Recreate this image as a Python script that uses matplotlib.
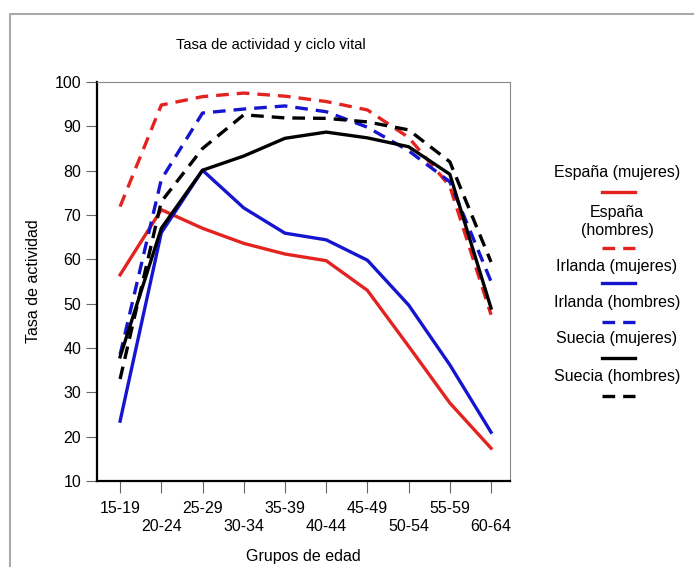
import matplotlib
matplotlib.use('Agg')
import matplotlib.pyplot as plt
from matplotlib.lines import Line2D

plt.rcParams['font.family'] = ['Liberation Sans', 'DejaVu Sans']

grupos = ['15-19', '20-24', '25-29', '30-34', '35-39',
          '40-44', '45-49', '50-54', '55-59', '60-64']
espana_m = [56.5, 71.2, 67.0, 63.6, 61.2, 59.7, 53.0, 40.4, 27.6, 17.4]
espana_h = [71.9, 94.8, 96.7, 97.5, 96.8, 95.6, 93.7, 87.5, 76.5, 47.5]
irlanda_m = [23.5, 66.0, 80.1, 71.6, 65.9, 64.4, 59.8, 49.7, 36.2, 21.0]
irlanda_h = [38.5, 78.0, 93.0, 93.9, 94.6, 93.3, 89.8, 84.5, 77.5, 55.0]
suecia_m = [38.0, 67.0, 80.1, 83.3, 87.3, 88.7, 87.4, 85.4, 79.2, 49.0]
suecia_h = [33.0, 73.0, 85.0, 92.6, 91.9, 91.8, 91.0, 89.2, 82.0, 59.4]

series = [
    ('España (mujeres)', espana_m, '#e32320', '-'),
    ('España\n(hombres)', espana_h, '#e32320', '--'),
    ('Irlanda (mujeres)', irlanda_m, '#1515d0', '-'),
    ('Irlanda (hombres)', irlanda_h, '#1515d0', '--'),
    ('Suecia (mujeres)', suecia_m, 'black', '-'),
    ('Suecia (hombres)', suecia_h, 'black', '--'),
]

W, H = 694, 567
fs = 11.5
fig = plt.figure(figsize=(W / 100, H / 100), dpi=100)
ax = fig.add_axes([97 / W, 1 - 481 / H, (510 - 97) / W, (481 - 82) / H])

x = list(range(len(grupos)))
lw = 2.4
dash = (3.8, 2.4)
for nombre, vals, col, ls in series:
    if ls == '--':
        ax.plot(x, vals, color=col, lw=lw, dashes=dash)
    else:
        ax.plot(x, vals, color=col, lw=lw)

ax.set_xlim(-0.56, 9.46)
ax.set_ylim(10, 100)
ax.set_yticks(range(10, 101, 10))
ax.set_xticks(x)
ax.set_xticklabels([g if i % 2 == 0 else '\n' + g for i, g in enumerate(grupos)],
                   fontsize=fs, linespacing=1.2)
ax.tick_params(axis='x', length=8.5, width=0.8, color='#666666', pad=6)
ax.tick_params(axis='y', length=8, width=0.8, color='#666666', pad=3.5, labelsize=fs)

for s in ['left', 'bottom']:
    ax.spines[s].set_linewidth(1.6)
    ax.spines[s].set_color('black')
for s in ['top', 'right']:
    ax.spines[s].set_linewidth(0.8)
    ax.spines[s].set_color('#888888')

fig.text(271 / W, 1 - 45 / H, 'Tasa de actividad y ciclo vital',
         ha='center', va='center', fontsize=10.5)
fig.text(34 / W, 1 - 281 / H, 'Tasa de actividad', rotation=90,
         ha='center', va='center', fontsize=fs)
fig.text(303 / W, 1 - 557 / H, 'Grupos de edad', ha='center', va='center', fontsize=fs)

# leyenda: texto arriba, muestra de linea debajo
text_y = [173, 222, 267, 303, 339, 377]
line_y = [192, 248, 283, 322, 358, 396]
for (nombre, vals, col, ls), ty, ly in zip(series, text_y, line_y):
    fig.text(617 / W, 1 - ty / H, nombre, ha='center', va='center',
             fontsize=fs, linespacing=1.25)
    ln = Line2D([602 / W, 635 / W], [1 - ly / H, 1 - ly / H],
                transform=fig.transFigure, color=col, lw=lw)
    if ls == '--':
        ln.set_dashes(dash)
    fig.add_artist(ln)

# marco gris de la imagen original
fig.add_artist(Line2D([10 / W, 10 / W, 1.0], [0.0, 1 - 14 / H, 1 - 14 / H],
                      transform=fig.transFigure, color='#aaaaaa', lw=1.5))

fig.savefig('out.png', dpi=100)
